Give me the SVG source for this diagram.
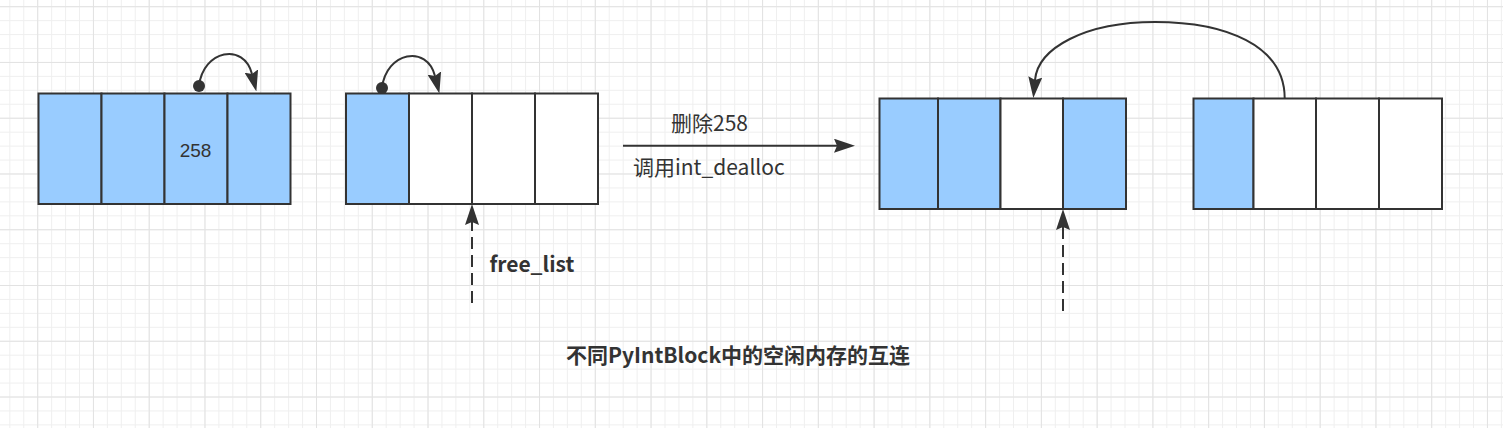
<svg xmlns="http://www.w3.org/2000/svg" width="1503" height="428" viewBox="0 0 1503 428">
  <defs>
    <pattern id="gridMinor" patternUnits="userSpaceOnUse" x="9.3" y="6.2" width="13.94" height="13.94">
      <rect x="0" y="0" width="1" height="13.94" fill="#efefef"/>
      <rect x="0" y="0" width="13.94" height="1" fill="#efefef"/>
    </pattern>
    <pattern id="gridMajor" patternUnits="userSpaceOnUse" x="37.2" y="6.2" width="55.76" height="55.76">
      <rect x="0" y="0" width="1" height="55.76" fill="#e2e2e2"/>
      <rect x="0" y="0" width="55.76" height="1" fill="#e2e2e2"/>
    </pattern>
    <marker id="arrow" markerUnits="userSpaceOnUse" viewBox="0 0 21 14" markerWidth="21" markerHeight="14" refX="3" refY="7" orient="auto">
      <path d="M0,0 L21,7 L0,14 L3,7 Z" fill="#333333"/>
    </marker>
    <style>
      .cell { stroke: #333333; stroke-width: 2; }
      .blue { fill: #99CCFF; }
      .white { fill: #FFFFFF; }
      .conn { fill: none; stroke: #333333; stroke-width: 2; }
      .dash { stroke-dasharray: 12 6; }
      .lbl { font-family: "Noto Sans CJK SC", "Noto Sans", sans-serif; font-size: 21px; fill: #333333; }
      .bold { font-weight: bold; }
      .num { font-family: "Liberation Sans", Arial, sans-serif; font-size: 19px; fill: #333333; }
    </style>
  </defs>

  <rect x="0" y="0" width="1503" height="428" fill="#FFFFFF"/>
  <rect x="0" y="0" width="1503" height="428" fill="url(#gridMinor)"/>
  <rect x="0" y="0" width="1503" height="428" fill="url(#gridMajor)"/>

  <g id="block1">
    <rect class="cell blue" x="38.5" y="93.5" width="63" height="110.5"/>
    <rect class="cell blue" x="101.5" y="93.5" width="63" height="110.5"/>
    <rect class="cell blue" x="164.5" y="93.5" width="63" height="110.5"/>
    <rect class="cell blue" x="227.5" y="93.5" width="63" height="110.5"/>
    <text class="num" x="195.5" y="157" text-anchor="middle">258</text>
  </g>

  <g id="block2">
    <rect class="cell blue" x="346" y="93.5" width="63" height="110.5"/>
    <rect class="cell white" x="409" y="93.5" width="63" height="110.5"/>
    <rect class="cell white" x="472" y="93.5" width="63" height="110.5"/>
    <rect class="cell white" x="535" y="93.5" width="63" height="110.5"/>
  </g>

  <g id="block3">
    <rect class="cell blue" x="879.5" y="98.5" width="58.5" height="110.5"/>
    <rect class="cell blue" x="938" y="98.5" width="62.5" height="110.5"/>
    <rect class="cell white" x="1000.5" y="98.5" width="62.5" height="110.5"/>
    <rect class="cell blue" x="1063" y="98.5" width="63" height="110.5"/>
  </g>

  <g id="block4">
    <rect class="cell blue" x="1193.5" y="98.5" width="60" height="110.5"/>
    <rect class="cell white" x="1253.5" y="98.5" width="62.5" height="110.5"/>
    <rect class="cell white" x="1316" y="98.5" width="63" height="110.5"/>
    <rect class="cell white" x="1379" y="98.5" width="63" height="110.5"/>
  </g>

  <g id="connectors">
    <path class="conn" d="M199,86 C203,50 244,42 252,74" marker-end="url(#arrow)"/>
    <circle cx="199" cy="86" r="6" fill="#333333"/>
    <path class="conn" d="M382,88 C386,52 427,44 435,76" marker-end="url(#arrow)"/>
    <circle cx="382" cy="88" r="6" fill="#333333"/>
    <path class="conn dash" d="M472,303 L472,222" marker-end="url(#arrow)"/>
    <path class="conn" d="M623,145.7 L837,145.7" marker-end="url(#arrow)"/>
    <path class="conn" d="M1284.7,98.5 C1284.7,45 1225,22 1155,22 C1085,22 1038,48 1035,80" marker-end="url(#arrow)"/>
    <path class="conn dash" d="M1063,311 L1063,227" marker-end="url(#arrow)"/>
  </g>

  <g id="labels">
    <text class="lbl" x="671" y="131">删除258</text>
    <text class="lbl" x="633" y="175">调用int_dealloc</text>
    <text class="lbl bold" x="489.5" y="272">free_list</text>
    <text class="lbl bold" x="566" y="363">不同PyIntBlock中的空闲内存的互连</text>
  </g>
</svg>
